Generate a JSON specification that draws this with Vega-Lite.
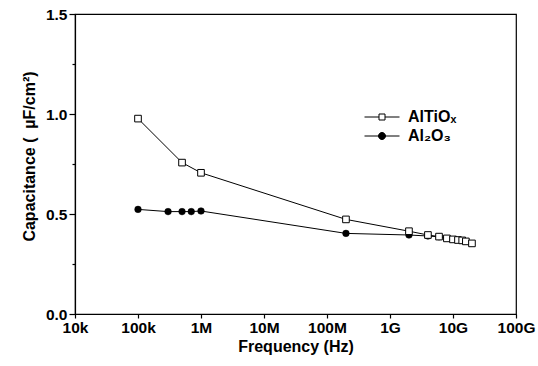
{
  "$schema": "https://vega.github.io/schema/vega-lite/v6.json",
  "width": 441,
  "height": 300,
  "autosize": {"type": "none"},
  "padding": {"left": 75, "top": 14, "right": 22, "bottom": 52},
  "background": "white",
  "config": {
    "view": {"stroke": "black", "strokeWidth": 1.2},
    "font": "Liberation Sans",
    "legend": {
      "orient": "none",
      "legendX": 299,
      "legendY": 95,
      "padding": 0,
      "symbolSize": 100,
      "symbolOpacity": 1,
      "symbolStrokeWidth": 1,
      "labelOffset": 18,
      "rowPadding": 3,
      "labelFont": "Liberation Sans",
      "labelFontWeight": "bold",
      "labelFontSize": 16,
      "labelColor": "black"
    },
    "axis": {
      "domainColor": "black",
      "tickColor": "black",
      "labelColor": "black",
      "titleColor": "black",
      "labelFont": "Liberation Sans",
      "titleFont": "Liberation Sans",
      "labelFontWeight": "bold",
      "titleFontWeight": "bold",
      "labelFontSize": 15.5,
      "titleFontSize": 16,
      "grid": false,
      "domainWidth": 1.2,
      "tickWidth": 1.2
    }
  },
  "data": {
    "values": [
      {"f": 100000, "c": 0.977, "s": "AlTiOₓ"},
      {"f": 500000, "c": 0.757, "s": "AlTiOₓ"},
      {"f": 1000000, "c": 0.706, "s": "AlTiOₓ"},
      {"f": 200000000, "c": 0.473, "s": "AlTiOₓ"},
      {"f": 2000000000, "c": 0.414, "s": "AlTiOₓ"},
      {"f": 4000000000, "c": 0.395, "s": "AlTiOₓ"},
      {"f": 6000000000, "c": 0.387, "s": "AlTiOₓ"},
      {"f": 8000000000, "c": 0.378, "s": "AlTiOₓ"},
      {"f": 10000000000, "c": 0.373, "s": "AlTiOₓ"},
      {"f": 12000000000, "c": 0.370, "s": "AlTiOₓ"},
      {"f": 14000000000, "c": 0.368, "s": "AlTiOₓ"},
      {"f": 16000000000, "c": 0.363, "s": "AlTiOₓ"},
      {"f": 20000000000, "c": 0.353, "s": "AlTiOₓ"},
      {"f": 100000, "c": 0.523, "s": "Al₂O₃"},
      {"f": 300000, "c": 0.512, "s": "Al₂O₃"},
      {"f": 500000, "c": 0.512, "s": "Al₂O₃"},
      {"f": 700000, "c": 0.512, "s": "Al₂O₃"},
      {"f": 1000000, "c": 0.515, "s": "Al₂O₃"},
      {"f": 200000000, "c": 0.403, "s": "Al₂O₃"},
      {"f": 2000000000, "c": 0.395, "s": "Al₂O₃"},
      {"f": 4000000000, "c": 0.39, "s": "Al₂O₃"},
      {"f": 6000000000, "c": 0.386, "s": "Al₂O₃"}
    ]
  },
  "encoding": {
    "x": {
      "field": "f",
      "type": "quantitative",
      "scale": {"type": "log", "domain": [10000, 100000000000], "nice": false},
      "axis": {
        "values": [10000, 100000, 1000000, 10000000, 100000000, 1000000000, 10000000000, 100000000000],
        "format": "~s",
        "title": "Frequency (Hz)",
        "tickSize": 4,
        "labelPadding": 2,
        "titlePadding": 3,
        "labelFlush": false,
        "labelOverlap": false
      }
    }
  },
  "layer": [
    {
      "mark": {"type": "line", "stroke": "black", "strokeWidth": 1},
      "encoding": {
        "detail": {"field": "s"},
        "y": {
          "field": "c",
          "type": "quantitative",
          "scale": {"domain": [0, 1.5], "nice": false},
          "axis": {
            "values": [0, 0.5, 1.0, 1.5],
            "format": ".1f",
            "title": "Capacitance (\u00a0\u00a0µF/cm²)",
            "titleY": 142,
            "tickSize": 6,
            "labelPadding": 2,
            "titlePadding": 8
          }
        }
      }
    },
    {
      "transform": [{"filter": "datum.s === 'Al₂O₃'"}],
      "mark": {"type": "point", "shape": "circle", "filled": true, "fill": "black", "stroke": "black", "strokeWidth": 0.5, "opacity": 1, "size": 44},
      "encoding": {
        "y": {
          "field": "c",
          "type": "quantitative",
          "scale": {"domain": [0, 1.5], "nice": false},
          "axis": {
            "orient": "left",
            "values": [0.25, 0.75, 1.25],
            "labels": false,
            "domain": false,
            "tickSize": 3,
            "title": null
          }
        }
      }
    },
    {
      "transform": [{"filter": "datum.s === 'AlTiOₓ'"}],
      "mark": {"type": "point", "shape": "square", "filled": true, "fill": "white", "stroke": "black", "strokeWidth": 1, "opacity": 1, "size": 44},
      "encoding": {
        "y": {
          "field": "c",
          "type": "quantitative",
          "scale": {"domain": [0, 1.5], "nice": false},
          "axis": null
        }
      }
    },
    {
      "mark": {"type": "point", "filled": false, "strokeWidth": 1, "opacity": 0, "size": 100},
      "encoding": {
        "y": {
          "field": "c",
          "type": "quantitative",
          "scale": {"domain": [0, 1.5], "nice": false},
          "axis": null
        },
        "shape": {
          "field": "s",
          "type": "nominal",
          "scale": {
            "domain": ["AlTiOₓ", "Al₂O₃"],
            "range": [
              "M-3.5,0H-0.6M0.6,0H3.5M-0.6,-0.6H0.6V0.6H-0.6Z",
              "M-3.5,0H3.5M-0.7,0A0.7,0.7,0,1,0,0.7,0A0.7,0.7,0,1,0,-0.7,0Z"
            ]
          },
          "legend": {"title": null}
        },
        "fill": {
          "field": "s",
          "type": "nominal",
          "scale": {"domain": ["AlTiOₓ", "Al₂O₃"], "range": ["white", "black"]},
          "legend": {"title": null}
        },
        "stroke": {
          "field": "s",
          "type": "nominal",
          "scale": {"domain": ["AlTiOₓ", "Al₂O₃"], "range": ["black", "black"]},
          "legend": {"title": null}
        }
      }
    }
  ],
  "resolve": {"axis": {"y": "independent"}}
}
